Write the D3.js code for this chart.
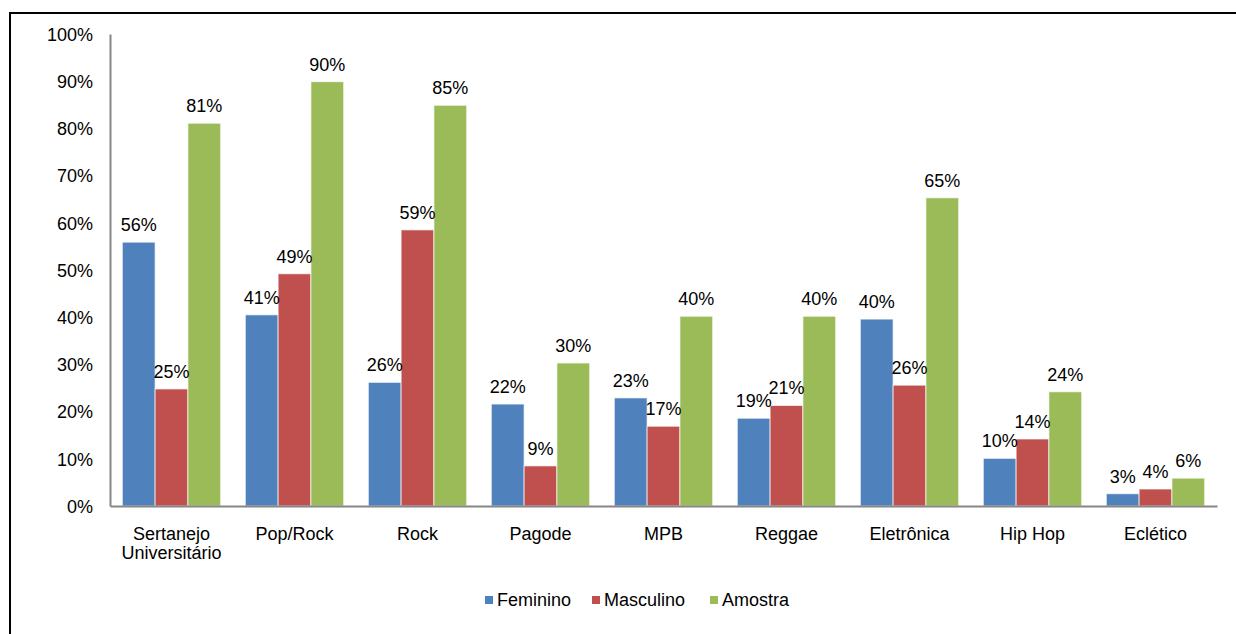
<!DOCTYPE html>
<html lang="en">
<head>
    <meta charset="UTF-8">
    <title>Estilos musicais</title>
    <script src="https://d3js.org/d3.v7.min.js"></script>
    <style>
        body { margin: 0; background: #fff; }
        text { font-family: "Liberation Sans", Arial, sans-serif; fill: #000; }
    </style>
</head>
<body>
<div id="chart"></div>
<script>
    // categories and series
    const categories = ["Sertanejo Universitário", "Pop/Rock", "Rock", "Pagode", "MPB",
        "Reggae", "Eletrônica", "Hip Hop", "Eclético"];
    const seriesNames = ["Feminino", "Masculino", "Amostra"];
    const feminino = [0.559, 0.405, 0.262, 0.216, 0.229, 0.186, 0.396, 0.101, 0.026];
    const masculino = [0.248, 0.492, 0.585, 0.085, 0.169, 0.213, 0.256, 0.142, 0.036];
    const amostra = [0.811, 0.899, 0.849, 0.303, 0.402, 0.402, 0.653, 0.242, 0.059];
    const yTicks = [0, 0.1, 0.2, 0.3, 0.4, 0.5, 0.6, 0.7, 0.8, 0.9, 1];
    const colors = ["#4F81BD", "#C0504D", "#9BBB59"];

    const width = 1236, height = 634;
    const margin = {left: 110, right: 19, top: 34, bottom: 128};
    const fontSize = 18;

    const svg = d3.select("#chart").append("svg")
        .attr("width", width)
        .attr("height", height);

    // frame (only left and top sides show)
    svg.append("path")
        .attr("d", `M10,${height} V13 H${width}`)
        .attr("fill", "none")
        .attr("stroke", "#000")
        .attr("stroke-width", 2);

    const x0 = d3.scaleBand()
        .domain(categories)
        .range([margin.left, width - margin.right])
        .paddingInner(0.2)
        .paddingOuter(0.1);
    const x1 = d3.scaleBand()
        .domain(seriesNames)
        .range([0, x0.bandwidth()]);
    const y = d3.scaleLinear()
        .domain([0, 1])
        .range([height - margin.bottom, margin.top]);

    const table = categories.map((c, i) => ({
        category: c,
        values: [feminino[i], masculino[i], amostra[i]]
    }));

    // y axis
    const yAxis = svg.append("g")
        .attr("transform", `translate(${margin.left},0)`)
        .call(d3.axisLeft(y).tickValues(yTicks).tickFormat(d3.format(".0%")).tickSize(0).tickPadding(17));
    yAxis.select(".domain").attr("stroke", "#868686").attr("stroke-width", 2);
    yAxis.selectAll("text").attr("font-size", fontSize).attr("font-family", null).attr("dy", "0.35em");

    const groups = svg.append("g").selectAll("g")
        .data(table)
        .join("g")
        .attr("transform", d => `translate(${x0(d.category)},0)`);

    groups.selectAll("rect")
        .data(d => d.values.map((v, j) => ({key: seriesNames[j], value: v, j})))
        .join("rect")
        .attr("x", d => x1(d.key))
        .attr("y", d => y(d.value))
        .attr("width", x1.bandwidth())
        .attr("height", d => y(0) - y(d.value))
        .attr("fill", d => colors[d.j])
        .attr("stroke", "#fff")
        .attr("stroke-opacity", 0.7)
        .attr("stroke-width", 1);

    groups.selectAll("text")
        .data(d => d.values.map((v, j) => ({key: seriesNames[j], value: v})))
        .join("text")
        .attr("x", d => x1(d.key) + x1.bandwidth() / 2)
        .attr("y", d => y(d.value) - 11)
        .attr("text-anchor", "middle")
        .attr("font-size", fontSize)
        .text(d => d3.format(".0%")(d.value));

    // x axis
    const xAxis = svg.append("g")
        .attr("transform", `translate(0,${y(0)})`)
        .call(d3.axisBottom(x0).tickSize(0).tickFormat(""));
    xAxis.select(".domain").attr("stroke", "#868686").attr("stroke-width", 2);

    const labelLines = {"Sertanejo Universitário": ["Sertanejo", "Universitário"]};
    svg.append("g").selectAll("text")
        .data(categories)
        .join("text")
        .attr("x", d => x0(d) + x0.bandwidth() / 2)
        .attr("y", y(0) + 34)
        .attr("text-anchor", "middle")
        .attr("font-size", fontSize)
        .selectAll("tspan")
        .data(d => labelLines[d] || [d])
        .join("tspan")
        .attr("x", function () { return this.parentNode.getAttribute("x"); })
        .attr("dy", (d, i) => i === 0 ? 0 : 19)
        .text(d => d);

    // legend
    const legendX = [485, 592, 710];
    const legend = svg.append("g").selectAll("g")
        .data(seriesNames)
        .join("g")
        .attr("transform", (d, i) => `translate(${legendX[i]},600)`);
    legend.append("rect")
        .attr("x", 0).attr("y", -4)
        .attr("width", 8).attr("height", 8)
        .attr("fill", (d, i) => colors[i]);
    legend.append("text")
        .attr("x", 12).attr("dy", "0.35em")
        .attr("font-size", fontSize)
        .text(d => d);
</script>
</body>
</html>
